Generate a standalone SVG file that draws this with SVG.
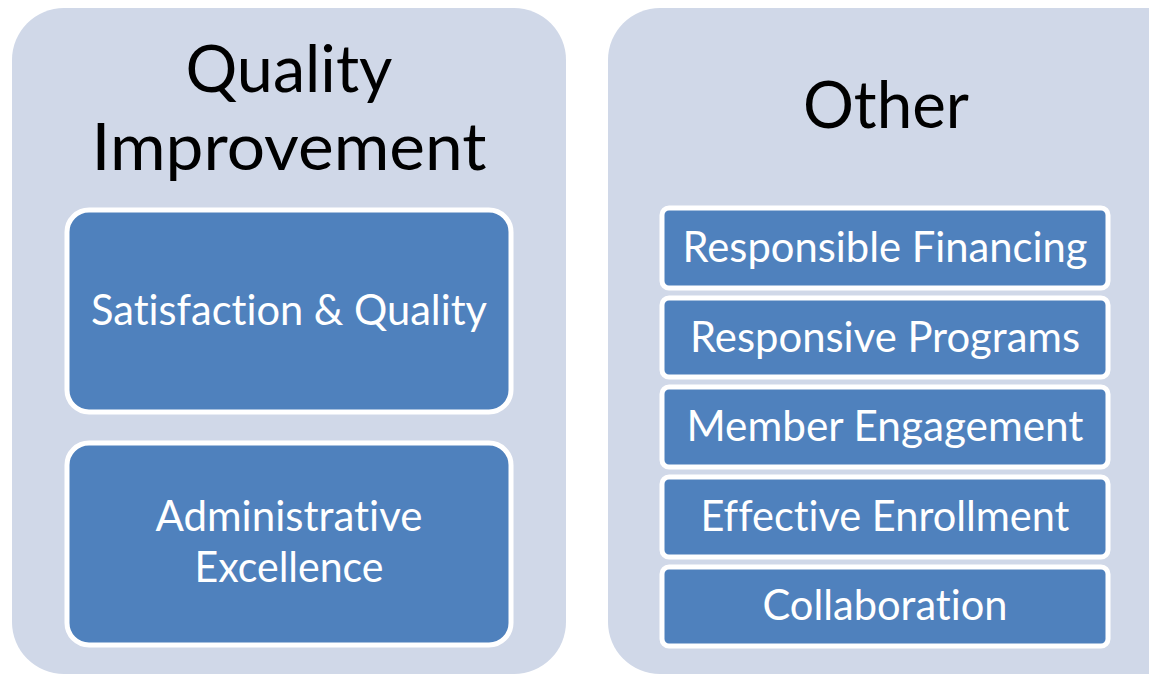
<svg xmlns="http://www.w3.org/2000/svg" width="1149" height="677" viewBox="0 0 1149 677">
<style>
.panel{fill:#D0D8E8;}
.box{fill:#4F81BD;stroke:#FFFFFF;stroke-width:5;}
.title{font-family:Lato,"Liberation Sans",sans-serif;font-size:66px;fill:#000000;text-anchor:middle;font-variant-ligatures:none;font-feature-settings:"liga" 0,"clig" 0,"dlig" 0;}
.lbl{font-family:Lato,"Liberation Sans",sans-serif;font-size:42px;fill:#FFFFFF;text-anchor:middle;font-variant-ligatures:none;font-feature-settings:"liga" 0,"clig" 0,"dlig" 0;}
</style>
<rect width="1149" height="677" fill="#FFFFFF"/>
<g id="panel-quality">
<rect class="panel" x="12" y="8" width="554" height="666" rx="52"/>
<text class="title" x="289" y="92" textLength="207" lengthAdjust="spacingAndGlyphs">Quality</text>
<text class="title" x="289" y="170" textLength="395" lengthAdjust="spacingAndGlyphs">Improvement</text>
</g>
<g id="panel-other">
<rect class="panel" x="608" y="8" width="600" height="666" rx="52"/>
<text class="title" x="886" y="128" textLength="166" lengthAdjust="spacingAndGlyphs">Other</text>
</g>
<g id="node-satisfaction">
<rect class="box" x="67" y="210" width="444" height="202" rx="22"/>
<text class="lbl" x="289" y="325" textLength="396" lengthAdjust="spacingAndGlyphs">Satisfaction &amp; Quality</text>
</g>
<g id="node-administrative">
<rect class="box" x="67" y="443" width="444" height="202" rx="22"/>
<text class="lbl" x="289" y="531" textLength="267" lengthAdjust="spacingAndGlyphs">Administrative</text>
<text class="lbl" x="289" y="582" textLength="189" lengthAdjust="spacingAndGlyphs">Excellence</text>
</g>
<g id="node-financing">
<rect class="box" x="662" y="208" width="446" height="80" rx="7"/>
<text class="lbl" x="885" y="262" textLength="405" lengthAdjust="spacingAndGlyphs">Responsible Financing</text>
</g>
<g id="node-programs">
<rect class="box" x="662" y="298" width="446" height="79" rx="7"/>
<text class="lbl" x="885" y="352" textLength="390" lengthAdjust="spacingAndGlyphs">Responsive Programs</text>
</g>
<g id="node-engagement">
<rect class="box" x="662" y="387" width="446" height="80" rx="7"/>
<text class="lbl" x="885" y="441" textLength="397" lengthAdjust="spacingAndGlyphs">Member Engagement</text>
</g>
<g id="node-enrollment">
<rect class="box" x="662" y="477" width="446" height="80" rx="7"/>
<text class="lbl" x="885" y="531" textLength="369" lengthAdjust="spacingAndGlyphs">Effective Enrollment</text>
</g>
<g id="node-collaboration">
<rect class="box" x="662" y="567" width="446" height="79" rx="7"/>
<text class="lbl" x="885" y="620" textLength="245" lengthAdjust="spacingAndGlyphs">Collaboration</text>
</g>
<g id="connectors"></g>
</svg>
